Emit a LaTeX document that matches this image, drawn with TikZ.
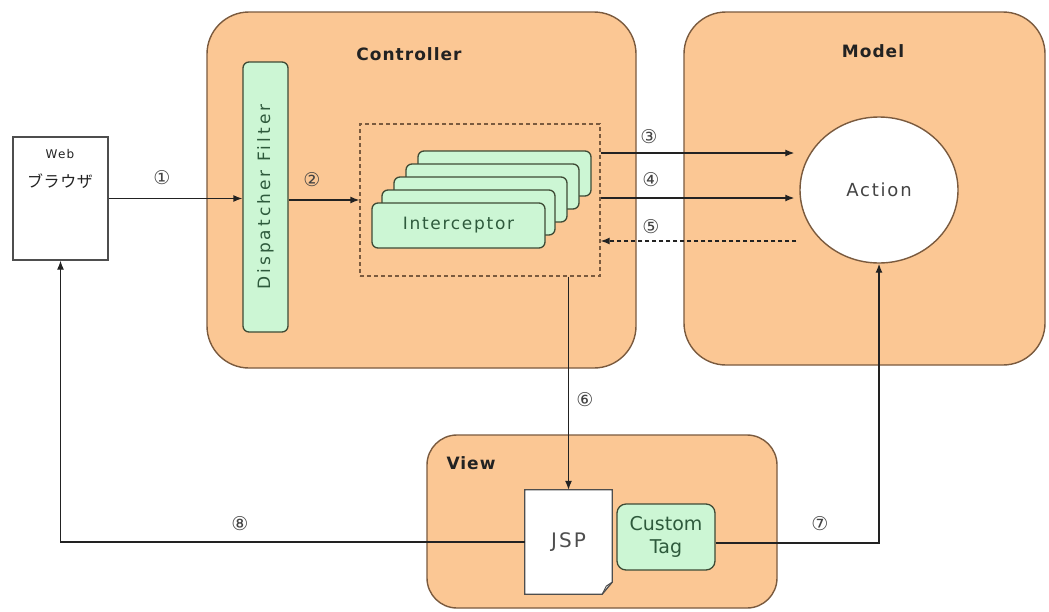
\documentclass[tikz,border=0pt]{standalone}
\usepackage{fontspec}
\setmainfont{DejaVu Sans}
\newfontfamily\jpfont[LetterSpace=4]{Noto Sans CJK JP}
\newfontfamily\spaced[LetterSpace=10]{DejaVu Sans}
\newfontfamily\wide[LetterSpace=18]{DejaVu Sans}
\newfontfamily\spacedb[LetterSpace=6]{DejaVu Sans Bold}
\usetikzlibrary{arrows.meta,shapes.geometric}
\definecolor{peach}{HTML}{FBC794}
\definecolor{peachline}{HTML}{7A5A3E}
\definecolor{mint}{HTML}{CCF6D4}
\definecolor{mintline}{HTML}{3E4A35}
\definecolor{mtext}{HTML}{2E5A3C}
\definecolor{ink}{HTML}{222222}
\tikzset{
  x=1pt, y=-1pt,
  group/.style={draw=peachline, line width=1.4pt, fill=peach, rounded corners=42pt, inner sep=0pt},
  title/.style={font=\spacedb\fontsize{17}{19}\selectfont, text=ink},
  greenbox/.style={draw=mintline, line width=1.3pt, fill=mint, rounded corners=6pt, inner sep=0pt},
  card/.style={greenbox, minimum width=173pt, minimum height=45pt},
  num/.style={font=\fontsize{19}{21}\selectfont, text=ink!85},
  arr/.style={draw=ink, line width=1.3pt, -{Latex[length=9pt,width=7pt]}},
  dasharr/.style={arr, dashed, dash pattern=on 4pt off 3pt},
}
\begin{document}
\begin{tikzpicture}
\useasboundingbox (0,0) rectangle (1049,611);
\fill[white] (0,0) rectangle (1049,611);

% group boxes
\node[group, minimum width=429pt, minimum height=356pt] (ctrl) at (421.5,190) {};
\node[group, minimum width=361pt, minimum height=353pt] (model) at (864.5,188.5) {};
\node[group, rounded corners=30pt, minimum width=350pt, minimum height=173pt] (view) at (602,521.5) {};

\node[title] (ctrlt) at (409,54) {Controller};
\node[title] (modelt) at (873,51) {Model};
\node[title] (viewt) at (471,463) {View};

% web browser
\node[draw=ink!80, line width=1.3pt, fill=white, minimum width=95pt, minimum height=123pt, inner sep=0pt] (web) at (60.5,198.5) {};
\node[font=\spaced\fontsize{12}{14}\selectfont, text=ink] (webt) at (60,154) {Web};
\node[font=\jpfont\fontsize{16}{18}\selectfont, text=ink] (webj) at (60,181) {ブラウザ};

% dispatcher filter
\node[greenbox, minimum width=45pt, minimum height=270pt] (disp) at (265.5,197) {};
\node[rotate=90, font=\wide\fontsize{17}{19}\selectfont, text=mtext] (dispt) at (disp.center) {Dispatcher Filter};

% dashed interceptor box
\node[draw=peachline, line width=1.3pt, dash pattern=on 4pt off 3pt, minimum width=240pt, minimum height=152pt, inner sep=0pt] (dash) at (480,200) {};

% interceptor stack
\node[card] (c4) at (504.5,173.5) {};
\node[card] (c3) at (492.5,186.5) {};
\node[card] (c2) at (480.5,199.5) {};
\node[card] (c1) at (468.5,212.5) {};
\node[card] (c0) at (458.5,225.5) {};
\node[font=\spaced\fontsize{17}{19}\selectfont, text=mtext] (intt) at (c0.center) {Interceptor};

% action
\node[draw=peachline, line width=1.4pt, fill=white, ellipse, minimum width=158pt, minimum height=146pt, inner sep=0pt] (act) at (879,190) {};
\node[font=\spaced\fontsize{18}{20}\selectfont, text=ink!85] (actt) at (act.center) {Action};

% JSP document
\node[minimum width=87pt, minimum height=104pt, inner sep=0pt] (jsp) at (568.5,542) {};
\draw[draw=ink!80, line width=1.3pt, fill=white]
  (jsp.north west) -- (jsp.north east) -- ([yshift=12pt]jsp.south east) -- ([xshift=-10pt]jsp.south east) -- (jsp.south west) -- cycle;
\draw[draw=ink!80, line width=1pt] ([yshift=12pt]jsp.south east) -- ([xshift=-6pt,yshift=8pt]jsp.south east) -- ([xshift=-10pt]jsp.south east);
\node[font=\spaced\fontsize{20}{22}\selectfont, text=ink!80] (jspt) at (jsp.center) {JSP};

% custom tag
\node[greenbox, rounded corners=9pt, minimum width=98pt, minimum height=66pt] (tag) at (666,537) {};
\node[font=\fontsize{19}{23}\selectfont, text=mtext, align=center] (tagt) at (tag.center) {Custom\\Tag};

% connectors
\draw[arr] (web.east) -- (web.east -| disp.west);
\draw[arr] (dash.west -| disp.east) -- (dash.west);

\coordinate (p3) at ([yshift=47pt]dash.east);
\coordinate (p4) at ([yshift=2pt]dash.east);
\coordinate (p5) at ([yshift=-41pt]dash.east);
\draw[arr, shorten >=5pt] (p3) -- (p3 -| act.west);
\draw[arr, shorten >=5pt] (p4) -- (p4 -| act.west);
\draw[dasharr, shorten <=3pt] (p5 -| act.west) -- (p5);

\draw[arr] (jsp.north |- dash.south) -- (jsp.north);

\coordinate (p7) at ([yshift=-6pt]tag.east);
\draw[arr] (p7) -- (p7 -| act.south) -- (act.south);
\draw[arr] (jsp.west) -- (jsp.west -| web.south) -- (web.south);

% numbers
\node[num] (n1) at (162,178) {①};
\node[num] (n2) at (312,180) {②};
\node[num] (n3) at (649,137) {③};
\node[num] (n4) at (651,180) {④};
\node[num] (n5) at (651,227) {⑤};
\node[num] (n6) at (585,400) {⑥};
\node[num] (n7) at (820,524) {⑦};
\node[num] (n8) at (240,524) {⑧};
\end{tikzpicture}
\end{document}
